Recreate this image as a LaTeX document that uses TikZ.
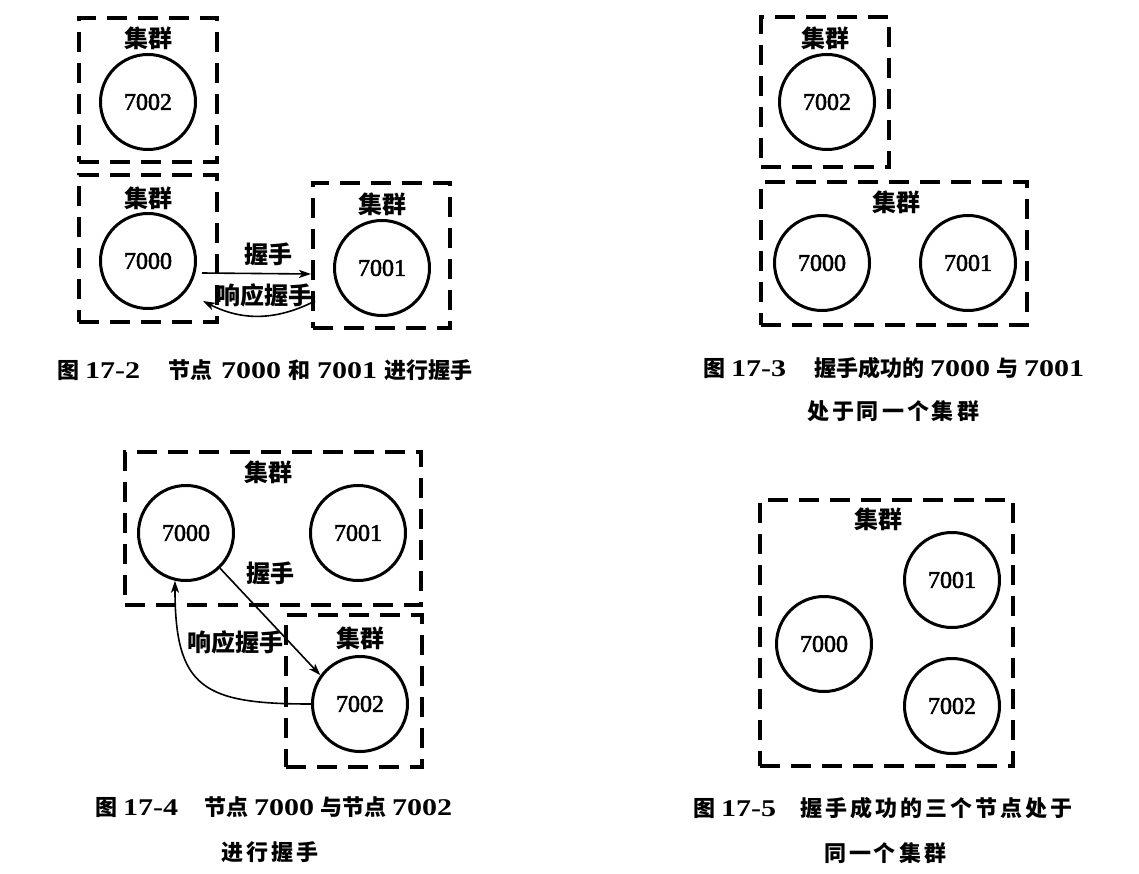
\documentclass[tikz,border=0pt]{standalone}
\usepackage{fontspec}
\setmainfont{Liberation Serif}
\newfontfamily\cjk{Noto Sans CJK SC}
\newfontfamily\widenum{Liberation Serif}[FakeStretch=1.25]
\newfontfamily\peernum{Liberation Serif}[FakeBold=2]
\usetikzlibrary{arrows.meta}
% Chinese text in bold sans, figure numbers in wide bold serif
\newcommand{\zh}[1]{{\cjk\bfseries #1}}
\newcommand{\wn}[1]{{\fontsize{24}{24}\selectfont\widenum\bfseries #1}}
% extra tracking between Chinese characters in spread caption lines
\newcommand{\tr}{\hspace{3pt}}

\begin{document}
\begin{tikzpicture}[x=1pt,y=-1pt,
  cluster/.style={draw, rectangle, line width=3.2pt, dash pattern=on 20pt off 11pt,
                  inner sep=0pt, outer sep=0pt},
  peer/.style={draw, circle, line width=3pt, minimum size=95pt, inner sep=0pt,
               font=\fontsize{24}{24}\selectfont\peernum},
  tag/.style={font=\fontsize{24}{24}\selectfont\cjk\bfseries, inner sep=1pt},
  figcap/.style={font=\fontsize{22}{22}\selectfont, inner sep=0pt},
  arr/.style={line width=1.6pt, -{Stealth[length=12pt,width=8pt,inset=3pt]}}]

\fill[white] (0,0) rectangle (1139,874);
\useasboundingbox (0,0) rectangle (1139,874);

% ---------- Figure 17-2: three separate clusters ----------
\node[cluster, minimum width=138, minimum height=144] (boxA) at (148,90) {};
\node[cluster, minimum width=138, minimum height=147] (boxB) at (148,248.5) {};
\node[cluster, minimum width=137, minimum height=145] (boxC) at (381.5,255.5) {};
\node[tag] (tA) at (148,38) {集群};
\node[tag] (tB) at (148,198) {集群};
\node[tag] (tC) at (382,204) {集群};
\node[peer] (a7002) at (148,102) {7002};
\node[peer] (a7000) at (148,261) {7000};
\node[peer] (a7001) at (382,268) {7001};

\coordinate (h1s) at (202,273);
\coordinate (h1e) at (311,274);
\coordinate (r1s) at (315,301);
\coordinate (r1e) at (203,301);
\draw[arr] (h1s) -- (h1e);
\draw[arr] (r1s) to[bend left=27] (r1e);
\node[tag] (lh1) at (268,254) {握手};
\node[tag] (lr1) at (264,295) {响应握手};

\node[figcap, anchor=west] (cap2) at (57,370)
  {\zh{图}\hspace{6pt}\wn{17-2}\hspace{28pt}\zh{节点}\hspace{9pt}\wn{7000}\hspace{7pt}\zh{和}\hspace{7pt}\wn{7001}\hspace{7pt}\zh{进行握手}};

% ---------- Figure 17-3: 7000 and 7001 joined ----------
\node[cluster, minimum width=128, minimum height=150] (boxD) at (825,92) {};
\node[cluster, minimum width=266, minimum height=143] (boxE) at (894,253.5) {};
\node[tag] (tD) at (825,38) {集群};
\node[tag] (tE) at (896,202) {集群};
\node[peer] (b7002) at (827,102) {7002};
\node[peer] (b7000) at (822,263) {7000};
\node[peer] (b7001) at (968,263) {7001};

\node[figcap, anchor=west] (cap3a) at (703,368)
  {\zh{图}\hspace{6pt}\wn{17-3}\hspace{28pt}\zh{握手成功的}\hspace{6pt}\wn{7000}\hspace{6pt}\zh{与}\hspace{6pt}\wn{7001}};
\node[figcap] (cap3b) at (893,411)
  {\zh{处\tr 于\tr 同\tr 一\tr 个\tr 集\tr 群}};

% ---------- Figure 17-4: 7000 shakes hands with 7002 ----------
\node[cluster, minimum width=296, minimum height=153] (boxF) at (273,528.5) {};
\node[cluster, minimum width=136, minimum height=152] (boxG) at (354,691) {};
\node[tag] (tF) at (268,472) {集群};
\node[tag] (tG) at (360,638) {集群};
\node[peer] (c7000) at (186,533) {7000};
\node[peer] (c7001) at (358,533) {7001};
\node[peer] (c7002) at (360,704) {7002};

\draw[arr] (c7000.-46) -- (c7002.144);
\draw[arr] (c7002.west) to[out=180, in=-90, looseness=1.5] (c7000.257);
\node[tag] (lh2) at (270,573) {握手};
\node[tag] (lr2) at (235,642) {响应握手};

\node[figcap, anchor=west] (cap4a) at (95,807)
  {\zh{图}\hspace{6pt}\wn{17-4}\hspace{26pt}\zh{节点}\hspace{6pt}\wn{7000}\hspace{6pt}\zh{与节点}\hspace{6pt}\wn{7002}};
\node[figcap] (cap4b) at (270,852) {\zh{进\tr 行\tr 握\tr 手}};

% ---------- Figure 17-5: one cluster of three nodes ----------
\node[cluster, minimum width=253, minimum height=266] (boxH) at (886.5,633) {};
\node[tag] (tH) at (878,519) {集群};
\node[peer] (d7000) at (824,644) {7000};
\node[peer] (d7001) at (952,580) {7001};
\node[peer] (d7002) at (952,706) {7002};

\node[figcap, anchor=west] (cap5a) at (693,808)
  {\zh{图}\hspace{6pt}\wn{17-5}\hspace{24pt}\zh{握\tr 手\tr 成\tr 功\tr 的\tr 三\tr 个\tr 节\tr 点\tr 处\tr 于}};
\node[figcap] (cap5b) at (885,853) {\zh{同\tr 一\tr 个\tr 集\tr 群}};

\end{tikzpicture}
\end{document}
